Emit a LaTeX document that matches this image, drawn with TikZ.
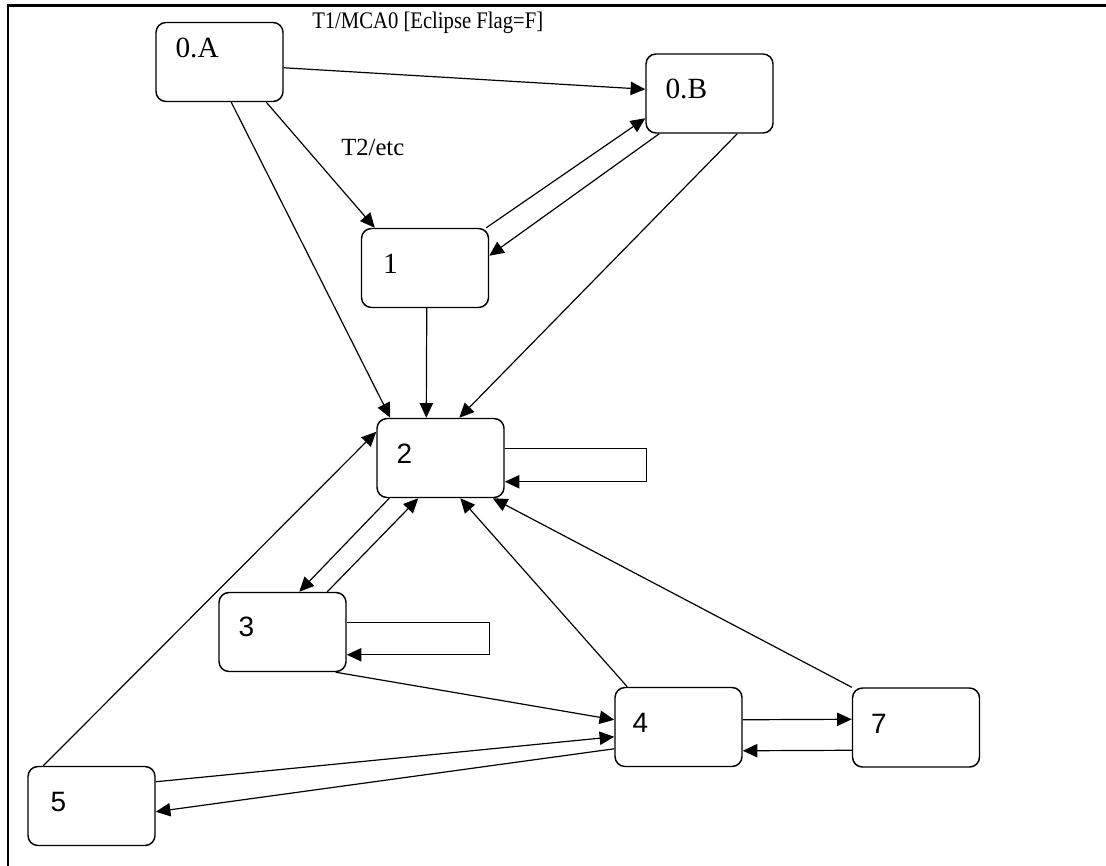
\documentclass[tikz,border=0pt]{standalone}
\usepackage{fontspec}
\setmainfont{Liberation Serif}
\newfontfamily\digitfont{Liberation Sans}
\usetikzlibrary{arrows.meta,calc}
\begin{document}
\begin{tikzpicture}[x=0.75pt,y=-0.75pt,
  state/.style={draw, rounded corners=7.5pt, line width=1.1pt,
    minimum width=95.25pt, minimum height=59.25pt, inner sep=0pt},
  tag/.style={anchor=base west, inner sep=0pt, font=\fontsize{22}{22}\selectfont},
  numtag/.style={anchor=base west, inner sep=0pt, font=\digitfont\fontsize{21}{21}\selectfont},
  note/.style={anchor=base west, inner sep=0pt, font=\fontsize{15.5}{15.5}\selectfont},
  edge/.style={line width=0.9pt, -{Triangle[length=11pt,width=10pt]}},
]
\useasboundingbox (0,0) rectangle (1106,866);
% page frame
\draw[line width=2.2pt] (8,866) -- (8,5.5) -- (1106,5.5);

% states
\node[state] (A)  at (219.5,62)  {};
\node[state] (B)  at (709.5,93.5) {};
\node[state] (N1) at (425,268)   {};
\node[state] (N2) at (440.5,458) {};
\node[state] (N3) at (282.5,632) {};
\node[state] (N4) at (678.5,727) {};
\node[state] (N7) at (916,727.5) {};
\node[state] (N5) at (91.5,806)  {};

% state names
\node[tag]    (lA)  at ($(A.north west)+(20,36)$)  {0.A};
\node[tag]    (lB)  at ($(B.north west)+(20,45)$)  {0.B};
\node[tag]    (l1)  at ($(N1.north west)+(22,46)$) {1};
\node[numtag] (l2)  at ($(N2.north west)+(20,46)$) {2};
\node[numtag] (l3)  at ($(N3.north west)+(20,45)$) {3};
\node[numtag] (l4)  at ($(N4.north west)+(18,46)$) {4};
\node[numtag] (l7)  at ($(N7.north west)+(19,46)$) {7};
\node[numtag] (l5)  at ($(N5.north west)+(23,46)$) {5};

% transition notes
\node[note, yscale=1.15, transform shape] (t1) at (312,29) {T1/MCA0 [Eclipse Flag=F]};
\node[note, font=\fontsize{18.5}{18.5}\selectfont] (t2) at (341,156) {T2/etc};

% transitions
\draw[edge] ($(A.north east)+(0,46)$) -- ($(B.north west)+(0,36)$);
\draw[edge] ($(A.south west)+(111,0)$) -- ($(N1.north west)+(14,0)$);
\draw[edge] ($(A.south west)+(76,0)$) -- ($(N2.north west)+(14,0)$);
\draw[edge] ($(N1.north east)+(-3,0)$) -- ($(B.north west)+(0,65)$);
\draw[edge] ($(B.south west)+(14,0)$) -- ($(N1.north east)+(0,28)$);
\draw[edge] ($(N1.south west)+(66,0)$) -- ($(N2.north west)+(50,0)$);
\draw[edge] ($(B.south west)+(92,0)$) -- ($(N2.north west)+(83,0)$);
\draw[edge] ($(N2.north east)+(0,31)$) -- ++(142,0) -- ++(0,33) -- ($(N2.north east)+(0,64)$);
\draw[edge] ($(N2.south west)+(13,0)$) -- ($(N3.north west)+(81,0)$);
\draw[edge] ($(N3.north west)+(109,0)$) -- ($(N2.south west)+(42,0)$);
\draw[edge] ($(N3.north east)+(0,31)$) -- ++(143,0) -- ++(0,32) -- ($(N3.north east)+(0,63)$);
\draw[edge] ($(N3.south east)+(-11,0)$) -- ($(N4.north west)+(0,33)$);
\draw[edge] ($(N4.north west)+(13,0)$) -- ($(N2.south west)+(84,0)$);
\draw[edge] (N7.north west) -- ($(N2.south east)+(-12,0)$);
\draw[edge] ($(N4.north east)+(0,33)$) -- ($(N7.north west)+(0,32)$);
\draw[edge] ($(N7.north west)+(0,63)$) -- ($(N4.north east)+(0,64)$);
\draw[edge] ($(N5.north east)+(0,16)$) -- ($(N4.north west)+(0,50)$);
\draw[edge] ($(N4.north west)+(0,62)$) -- ($(N5.north east)+(0,46)$);
\draw[edge] ($(N5.north west)+(16,0)$) -- ($(N2.north west)+(0,14)$);
\end{tikzpicture}
\end{document}
